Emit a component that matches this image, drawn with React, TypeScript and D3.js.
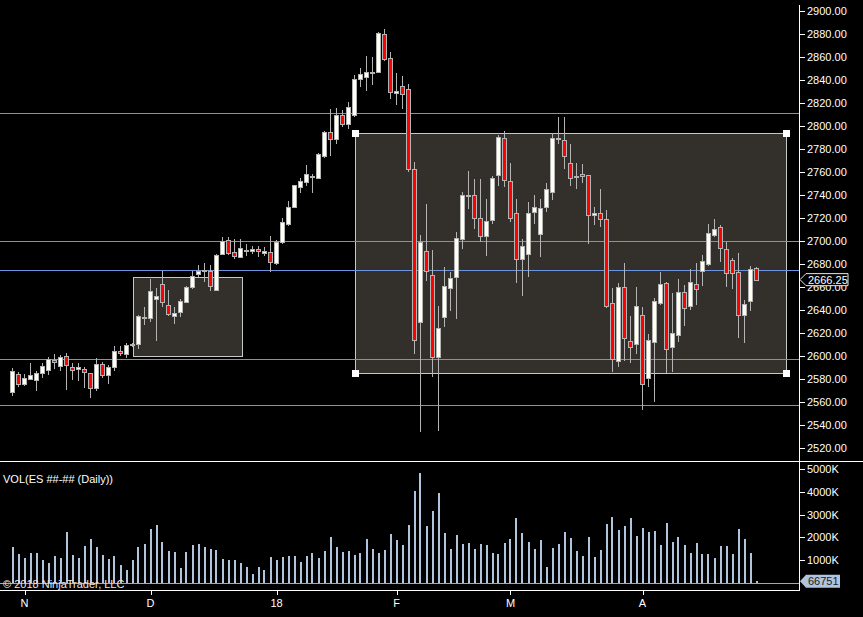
import * as d3 from "d3";

// ES daily bars, Oct 30 .. mid April
const opens = [
  2568.7, 2583.8, 2575.7, 2580.1, 2579.2, 2585.3, 2587.9, 2596.0, 2591.4, 2599.5,
  2589.9, 2588.2, 2588.2, 2584.7, 2572.3, 2592.6, 2583.5, 2589.9, 2603.9, 2601.3,
  2609.3, 2610.0, 2633.5, 2633.2, 2649.1, 2662.5, 2643.9, 2634.9, 2638.4, 2647.1,
  2660.2, 2671.5, 2674.0, 2673.5, 2657.5, 2688.3, 2700.5, 2690.0, 2686.2, 2692.0,
  2691.5, 2692.9, 2689.2, 2690.0, 2680.5, 2698.7, 2714.7, 2729.8, 2747.2, 2751.5,
  2755.9, 2755.0, 2774.1, 2795.0, 2788.4, 2809.5, 2801.7, 2809.5, 2840.6, 2842.3,
  2846.3, 2847.2, 2879.7, 2858.8, 2829.0, 2834.5, 2831.8, 2762.2, 2629.1, 2690.9,
  2670.0, 2598.7, 2633.5, 2658.7, 2668.3, 2701.3, 2739.8, 2739.6, 2719.6, 2703.9,
  2717.9, 2757.0, 2789.2, 2751.8, 2724.0, 2683.9, 2688.3, 2724.8, 2705.7, 2729.2,
  2742.2, 2789.2, 2787.5, 2767.5, 2755.9, 2758.2, 2757.0, 2722.2, 2724.0, 2718.7,
  2645.7, 2595.2, 2659.6, 2613.2, 2610.0, 2635.2, 2581.0, 2612.3, 2645.7, 2663.1,
  2607.4, 2617.8, 2655.2, 2643.1, 2662.2, 2673.5, 2679.6, 2704.8, 2711.8, 2692.6,
  2683.1, 2672.6, 2635.2, 2648.0, 2676.1,
];
const highs = [
  2589.1, 2586.1, 2583.8, 2593.7, 2586.8, 2593.4, 2598.6, 2601.5, 2600.4, 2602.4,
  2593.4, 2593.4, 2589.9, 2584.7, 2597.8, 2594.3, 2591.7, 2608.5, 2608.5, 2610.8,
  2611.5, 2635.5, 2642.2, 2666.8, 2658.7, 2674.1, 2657.2, 2642.2, 2649.7, 2660.7,
  2674.1, 2679.0, 2680.5, 2679.0, 2688.6, 2703.6, 2703.1, 2701.6, 2701.6, 2697.3,
  2695.8, 2695.8, 2694.4, 2704.5, 2700.7, 2720.2, 2734.7, 2748.3, 2755.0, 2766.0,
  2758.2, 2776.2, 2795.6, 2814.7, 2815.3, 2813.9, 2820.8, 2844.3, 2850.1, 2860.9,
  2859.7, 2881.4, 2884.3, 2864.0, 2845.8, 2843.5, 2836.2, 2768.3, 2705.1, 2732.1,
  2692.1, 2643.3, 2677.3, 2672.9, 2707.4, 2742.5, 2760.8, 2753.8, 2753.8, 2736.4,
  2756.4, 2792.1, 2795.6, 2767.5, 2736.4, 2701.6, 2733.8, 2739.6, 2736.4, 2750.1,
  2793.6, 2807.5, 2808.0, 2784.3, 2767.5, 2766.6, 2757.0, 2729.2, 2744.8, 2726.9,
  2659.3, 2663.1, 2680.5, 2634.6, 2660.2, 2642.2, 2618.7, 2650.6, 2672.9, 2664.2,
  2654.4, 2666.8, 2661.6, 2675.5, 2680.5, 2687.7, 2714.7, 2719.0, 2713.8, 2699.3,
  2685.1, 2689.2, 2648.6, 2678.1, 2677.0,
];
const lows = [
  2565.0, 2573.1, 2574.0, 2578.6, 2569.6, 2580.9, 2583.5, 2588.5, 2587.0, 2570.2,
  2578.9, 2578.3, 2572.3, 2563.6, 2569.6, 2580.9, 2575.7, 2587.0, 2599.8, 2597.8,
  2607.5, 2605.6, 2626.8, 2629.7, 2613.2, 2642.2, 2634.6, 2627.7, 2634.0, 2645.6,
  2657.8, 2668.9, 2664.5, 2656.4, 2657.2, 2687.7, 2687.7, 2684.2, 2686.2, 2687.1,
  2688.6, 2686.2, 2687.1, 2673.2, 2679.0, 2697.3, 2713.2, 2728.9, 2741.9, 2748.0,
  2741.9, 2753.6, 2772.4, 2774.1, 2784.3, 2799.4, 2797.0, 2807.5, 2834.2, 2830.7,
  2835.6, 2846.3, 2856.5, 2823.4, 2818.2, 2814.7, 2760.2, 2601.3, 2534.0, 2665.4,
  2581.9, 2534.9, 2625.4, 2639.3, 2632.3, 2692.9, 2727.4, 2710.6, 2698.7, 2687.1,
  2715.0, 2748.0, 2747.2, 2716.7, 2663.6, 2652.3, 2668.9, 2715.0, 2686.3, 2724.8,
  2735.6, 2784.0, 2762.8, 2748.0, 2745.4, 2750.6, 2697.3, 2713.5, 2712.4, 2641.9,
  2586.2, 2590.6, 2595.5, 2593.5, 2601.3, 2552.9, 2573.2, 2559.5, 2643.9, 2585.4,
  2585.7, 2612.3, 2626.3, 2640.2, 2644.5, 2661.0, 2678.4, 2703.7, 2681.9, 2660.2,
  2657.8, 2615.8, 2611.4, 2639.3, 2666.0,
];
const closes = [
  2586.7, 2575.7, 2580.3, 2583.0, 2584.7, 2590.8, 2596.9, 2594.3, 2598.6, 2591.7,
  2587.3, 2589.9, 2585.6, 2572.3, 2592.6, 2583.5, 2589.9, 2603.9, 2602.1, 2609.1,
  2610.3, 2634.6, 2633.7, 2656.4, 2652.0, 2646.5, 2636.1, 2637.2, 2647.7, 2659.9,
  2669.7, 2673.8, 2674.3, 2661.0, 2687.7, 2699.6, 2689.2, 2686.5, 2693.5, 2692.2,
  2692.9, 2690.9, 2691.2, 2681.3, 2698.7, 2716.1, 2729.2, 2748.3, 2752.1, 2757.9,
  2756.1, 2775.3, 2794.4, 2788.4, 2809.5, 2801.4, 2816.2, 2840.6, 2844.9, 2846.6,
  2846.5, 2880.6, 2858.5, 2829.8, 2830.7, 2828.1, 2762.3, 2613.8, 2699.3, 2673.8,
  2598.7, 2623.9, 2660.4, 2667.4, 2702.2, 2739.6, 2740.1, 2719.6, 2703.9, 2717.0,
  2754.4, 2790.1, 2752.7, 2719.6, 2683.9, 2695.2, 2724.0, 2729.2, 2728.3, 2744.8,
  2789.2, 2789.4, 2773.5, 2754.4, 2756.1, 2756.2, 2722.8, 2724.0, 2718.7, 2643.6,
  2597.2, 2659.6, 2615.8, 2607.4, 2643.3, 2575.2, 2613.5, 2647.7, 2662.2, 2605.6,
  2619.6, 2655.2, 2641.3, 2664.0, 2657.8, 2682.2, 2706.6, 2710.0, 2693.5, 2671.8,
  2671.8, 2635.2, 2644.8, 2675.5, 2666.25,
];
// volume in thousands of contracts
const volumes = [
  1575, 1266, 1090, 1310, 1310, 1001, 869, 1178, 1090, 2236,
  1222, 1090, 1619, 1928, 1575, 1222, 1045, 1178, 781, 560,
  1001, 1575, 1707, 2369, 2545, 1795, 1398, 1354, 648, 1354,
  1663, 1707, 1575, 1487, 1442, 1045, 1001, 1001, 869, 693,
  384, 693, 560, 1134, 1001, 1134, 1178, 1178, 913, 1178,
  1310, 1090, 1398, 2016, 1575, 1354, 1398, 1222, 1310, 1928,
  1487, 1310, 1442, 2148, 1884, 1663, 2545, 4045, 4839, 2501,
  3163, 3957, 2192, 1487, 2104, 1707, 1751, 1487, 1707, 1663,
  1310, 1266, 1751, 1928, 2854, 2192, 1795, 1487, 1884, 693,
  1531, 1707, 2236, 1972, 1398, 1178, 2016, 1134, 1442, 2589,
  2898, 2325, 2501, 2854, 2060, 2413, 2236, 2281, 1663, 2633,
  1795, 2016, 1663, 1310, 1751, 1266, 1266, 1090, 1619, 1619,
  1266, 2369, 1928, 1310, 66.751,
];

const priceTicks = [
  2520, 2540, 2560, 2580, 2600, 2620, 2640, 2660, 2680, 2700,
  2720, 2740, 2760, 2780, 2800, 2820, 2840, 2860, 2880, 2900,
];
const volumeTicks = [1000, 2000, 3000, 4000, 5000];
const monthLabels = ["N", "D", "18", "F", "M", "A"];
const monthBar = [2, 23, 44, 64, 83, 105];

// drawn horizontal levels and boxes (bar index / price)
const levelPrices = [2811, 2699.75, 2674.4, 2596.9, 2556.9];
const boxFrom = [20, 57.1];
const boxTo = [38.2, 128.9];
const boxHigh = [2668.3, 2793.6];
const boxLow = [2600.1, 2584.8];
const boxHandles = [false, true];

const AXIS_X = 800;
const FONT = "'Liberation Sans', Arial, sans-serif";
const UP_FILL = "#fffff2";
const DOWN_FILL = "#ff0000";
const OUTLINE = "#b4b4b4";
const VOL_FILL = "#b0c4de";
const LEVEL = "#6c94e0";

export default function App() {
  const x = d3
    .scaleLinear()
    .domain([0, closes.length - 1])
    .range([12.5, 756.5]);
  const y = d3.scaleLinear().domain([2520, 2900]).range([447.7, 11]);
  const yv = d3.scaleLinear().domain([0, 5000]).range([582.7, 469.3]);

  const lastClose = closes[closes.length - 1];
  const lastVol = volumes[volumes.length - 1];
  const py = y(lastClose);
  const vy = yv(lastVol);

  return (
    <>
      <style>{`body{margin:0;background:#000}`}</style>
      <svg
        width={863}
        height={617}
        style={{ display: "block", background: "#000" }}
        fontFamily={FONT}
        fontSize={11}
      >
        <rect width={863} height={617} fill="#000" />

        {/* boxes */}
        {boxFrom.map((b, i) => {
          const x0 = Math.round(x(b)) + 0.5;
          const x1 = Math.round(x(boxTo[i])) + 0.5;
          const y0 = Math.round(y(boxHigh[i])) + 0.5;
          const y1 = Math.round(y(boxLow[i])) + 0.5;
          return (
            <g key={i}>
              <rect
                x={x0}
                y={y0}
                width={x1 - x0}
                height={y1 - y0}
                fill="#332f2b"
                stroke="#c8c8c8"
                strokeWidth={1}
                shapeRendering="crispEdges"
              />
            </g>
          );
        })}

        {/* horizontal levels */}
        {levelPrices.map((p, i) => (
          <line
            key={i}
            x1={0}
            x2={AXIS_X}
            y1={Math.round(y(p)) + 0.5}
            y2={Math.round(y(p)) + 0.5}
            stroke={LEVEL}
            strokeWidth={1}
            shapeRendering="crispEdges"
          />
        ))}

        {/* candles */}
        {closes.map((c, i) => {
          const o = opens[i];
          const cx = x(i);
          const up = c >= o;
          const top = Math.round(y(Math.max(o, c)));
          const bot = Math.round(y(Math.min(o, c)));
          const h = Math.max(1, bot - top);
          return (
            <g key={i} shapeRendering="crispEdges">
              <line
                x1={cx}
                x2={cx}
                y1={y(highs[i])}
                y2={y(lows[i])}
                stroke={OUTLINE}
                strokeWidth={1}
              />
              <rect
                x={cx - 2}
                y={top + 0.5}
                width={4}
                height={h}
                fill={h <= 1 ? OUTLINE : up ? UP_FILL : DOWN_FILL}
                stroke={OUTLINE}
                strokeWidth={1}
              />
            </g>
          );
        })}

        {/* handles of the selected box */}
        {boxFrom.map((b, i) =>
          boxHandles[i]
            ? [
                [b, boxHigh[i]],
                [boxTo[i], boxHigh[i]],
                [b, boxLow[i]],
                [boxTo[i], boxLow[i]],
              ].map(([bi, p], k) => (
                <rect
                  key={`${i}-${k}`}
                  x={Math.round(x(bi)) - 3}
                  y={Math.round(y(p)) - 3}
                  width={7}
                  height={7}
                  fill="#ffffff"
                  shapeRendering="crispEdges"
                />
              ))
            : null,
        )}

        {/* volume bars */}
        {volumes.map((v, i) => (
          <rect
            key={i}
            x={Math.round(x(i) - 1)}
            y={yv(v)}
            width={2}
            height={yv(0) - yv(v)}
            fill={VOL_FILL}
            shapeRendering="crispEdges"
          />
        ))}
        <line
          x1={0}
          x2={AXIS_X}
          y1={Math.round(yv(0)) + 0.5}
          y2={Math.round(yv(0)) + 0.5}
          stroke="#a8a8a8"
          shapeRendering="crispEdges"
        />

        {/* frame */}
        <g stroke="#ffffff" strokeWidth={1} shapeRendering="crispEdges">
          <line x1={0} x2={863} y1={461.5} y2={461.5} />
          <line x1={0} x2={AXIS_X} y1={590.5} y2={590.5} />
          <line x1={AXIS_X - 0.5} x2={AXIS_X - 0.5} y1={5} y2={591} />
        </g>

        {/* price axis */}
        {priceTicks.map((t) => (
          <g key={t}>
            <line
              x1={AXIS_X}
              x2={AXIS_X + 5}
              y1={Math.round(y(t)) + 0.5}
              y2={Math.round(y(t)) + 0.5}
              stroke="#fff"
              shapeRendering="crispEdges"
            />
            <text x={AXIS_X + 7} y={y(t)} dy="0.36em" fill="#fff">
              {t.toFixed(2)}
            </text>
          </g>
        ))}

        {/* volume axis */}
        {volumeTicks.map((t) => (
          <g key={t}>
            <line
              x1={AXIS_X}
              x2={AXIS_X + 5}
              y1={Math.round(yv(t)) + 0.5}
              y2={Math.round(yv(t)) + 0.5}
              stroke="#fff"
              shapeRendering="crispEdges"
            />
            <text x={AXIS_X + 7} y={yv(t)} dy="0.36em" fill="#fff">
              {`${t}K`}
            </text>
          </g>
        ))}

        {/* last price marker */}
        <path
          d={`M${AXIS_X},${py} L${AXIS_X + 6},${py - 6} H${AXIS_X + 48} V${py + 6} H${AXIS_X + 6} Z`}
          fill="#000"
          stroke="#e8e8e8"
          strokeWidth={1}
        />
        <text x={AXIS_X + 8} y={py} dy="0.36em" fill="#fff">
          {lastClose.toFixed(2)}
        </text>

        {/* last volume marker */}
        <path
          d={`M${AXIS_X},${vy} L${AXIS_X + 6},${vy - 6.5} H${AXIS_X + 40} V${vy + 6.5} H${AXIS_X + 6} Z`}
          fill={VOL_FILL}
        />
        <text x={AXIS_X + 8} y={vy} dy="0.36em" fill="#202020">
          {Math.round(lastVol * 1000)}
        </text>

        {/* time axis */}
        {monthLabels.map((m, i) => (
          <g key={m}>
            <line
              x1={Math.round(x(monthBar[i])) + 0.5}
              x2={Math.round(x(monthBar[i])) + 0.5}
              y1={591}
              y2={595}
              stroke="#fff"
              shapeRendering="crispEdges"
            />
            <text x={x(monthBar[i])} y={603} dy="0.36em" textAnchor="middle" fill="#fff">
              {m}
            </text>
          </g>
        ))}

        <text x={3} y={479} dy="0.36em" fill="#fff">
          VOL(ES ##-## (Daily))
        </text>
        <text x={3} y={584} dy="0.36em" fill="#e6e6e6">
          © 2018 NinjaTrader, LLC
        </text>
      </svg>
    </>
  );
}
